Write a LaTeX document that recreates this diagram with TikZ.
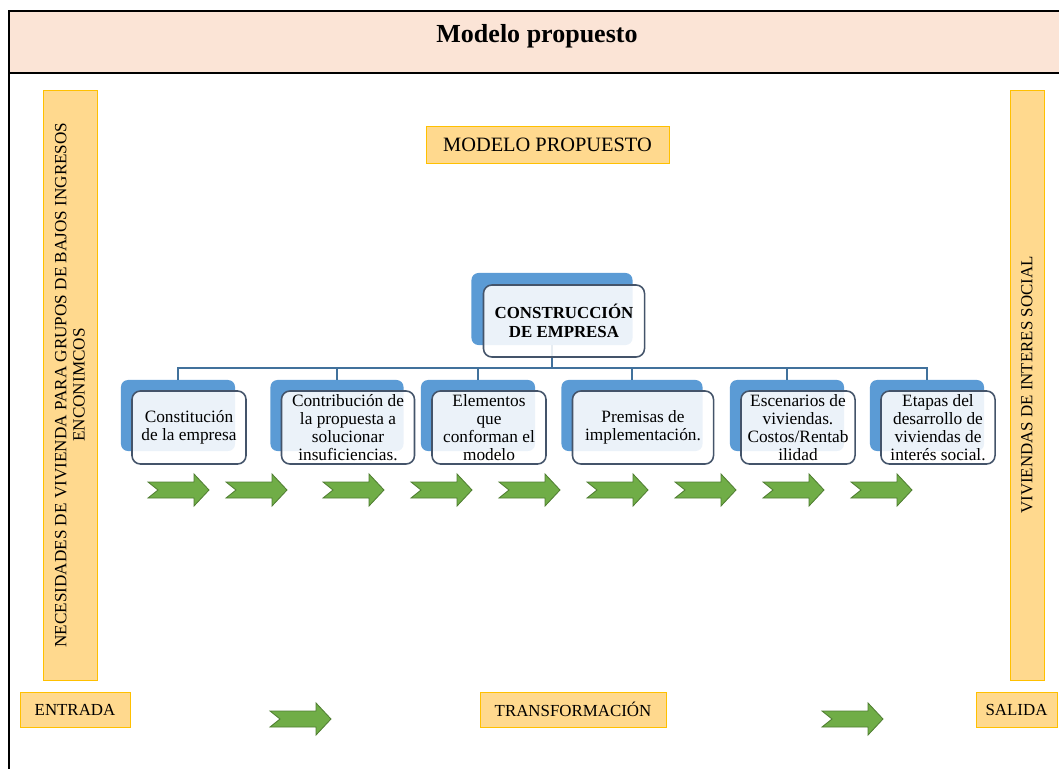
\documentclass[tikz,border=0pt]{standalone}
\usepackage{fontspec}
\setmainfont{Liberation Serif}
\usetikzlibrary{positioning}
\definecolor{bandpink}{HTML}{FBE4D6}
\definecolor{tagfill}{HTML}{FFD98E}
\definecolor{tagline}{HTML}{FFC000}
\definecolor{cardblue}{HTML}{5B9BD5}
\definecolor{cardline}{HTML}{44546A}
\definecolor{linkblue}{HTML}{41719C}
\definecolor{arrowgreen}{HTML}{70AD47}
\definecolor{arrowline}{HTML}{507E32}

\begin{document}
\begin{tikzpicture}[x=0.025cm,y=-0.025cm,every node/.style={outer sep=0pt},
 tag/.style={draw=tagline,fill=tagfill,inner sep=0pt,font=\fontsize{12}{13}\selectfont},
 back/.style={fill=cardblue,rounded corners=5pt,minimum height=1.775cm,inner sep=0pt},
 card/.style={draw=cardline,line width=1.1pt,fill=white,fill opacity=0.88,text opacity=1,
 rounded corners=6pt,minimum height=1.825cm,inner sep=0pt,align=center,
 font=\fontsize{12.3}{12.8}\selectfont},
 link/.style={draw=linkblue,line width=1pt},
 chevron/.pic={\draw[draw=arrowline,fill=arrowgreen,line width=0.6pt]
 (0,-8) -- (46,-8) -- (46,-16) -- (61,0) -- (46,16) -- (46,8) -- (0,8) -- (10,0) -- cycle;}]

  \useasboundingbox (0,0) rectangle (1059,769);
  % header band
  \fill[bandpink] (9,11) rectangle (1059,73);
  \draw[line width=1.4pt] (1059,11) -- (9,11) -- (9,769);
  \draw[line width=2pt] (9,73) -- (1059,73);
  \node[font=\bfseries\fontsize{18.5}{20}\selectfont] (title) at (537,36) {Modelo propuesto};

  % side bars and tags
  \node[tag,rotate=90,minimum width=14.75cm,minimum height=1.35cm,align=center,
   font=\fontsize{12.2}{13}\selectfont] (need) at (70,385)
   {NECESIDADES DE VIVIENDA PARA GRUPOS DE BAJOS INGRESOS\\ENCONIMCOS};
  \node[tag,rotate=90,minimum width=14.75cm,minimum height=0.85cm] (social) at (1027,385)
   {VIVIENDAS DE INTERES SOCIAL};
  \node[tag,minimum width=6.075cm,minimum height=0.925cm,font=\fontsize{14.5}{16}\selectfont]
   (model) at (547.5,144.5) {MODELO PROPUESTO};
  \node[tag,minimum width=2.75cm,minimum height=0.875cm] (input) at (75,709.5) {ENTRADA};
  \node[tag,minimum width=4.65cm,minimum height=0.875cm] (trans) at (573,709.5) {TRANSFORMACIÓN};
  \node[tag,minimum width=2.025cm,minimum height=0.875cm] (output) at (1016.5,709.5) {SALIDA};

  % hierarchy
  \coordinate (bus) at (0,368);
  \node[back,minimum width=4.025cm,minimum height=1.8cm] (broot) at (552,309) {};
  \foreach \n/\x/\w/\txt in {1/178/2.85/{Constitución\\de la empresa},
   2/337/3.325/{Contribución de\\la propuesta a\\solucionar\\insuficiencias.},
   3/478/2.85/{Elementos\\que\\conforman el\\modelo},
   4/632/3.525/{Premisas de\\implementación.},
   5/787/2.85/{Escenarios de\\viviendas.\\Costos/Rentab\\ilidad},
   6/927/2.85/{Etapas del\\desarrollo de\\viviendas de\\interés social.}}
  {\node[back,minimum width=\w cm] (b\n) at (\x,415.5) {};
   \draw[link] (broot.south) -- (broot.south|-bus) -| (b\n.north);
   \node[card,minimum width=\w cm] (c\n) at ([shift={(11,12)}]b\n.center) {\txt};
  }
  \node[card,minimum width=4.025cm,minimum height=1.8cm,font=\bfseries\fontsize{12}{13.5}\selectfont]
   (root) at ([shift={(12,12)}]broot.center) {CONSTRUCCIÓN\\DE EMPRESA};

  % arrows
  \foreach \x in {148,226,323,411,499,587,675,763,851}
   \pic at (\x,490) {chevron};
  \foreach \x in {270,822}
   \pic at (\x,719) {chevron};

\end{tikzpicture}
\end{document}
